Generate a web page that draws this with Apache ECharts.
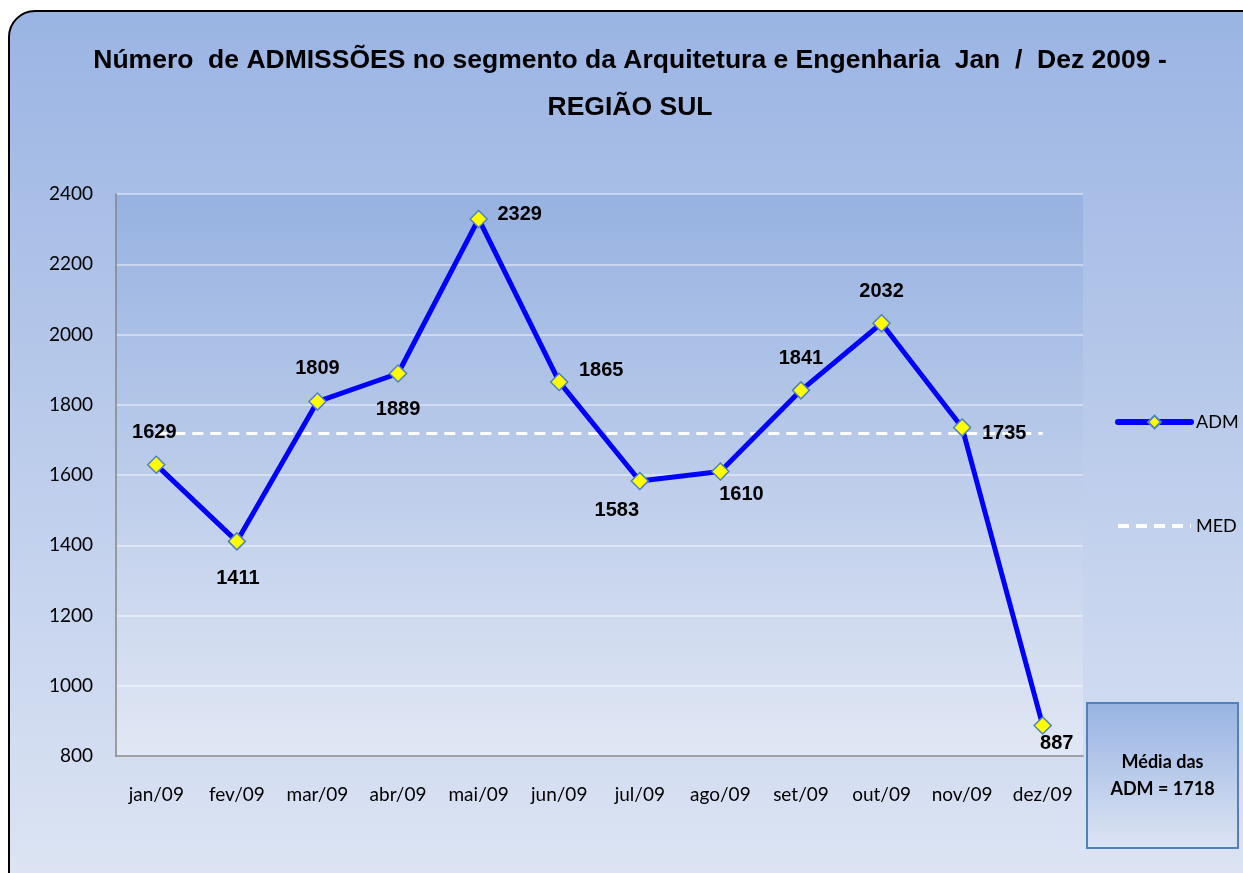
<!DOCTYPE html>
<html>
<head>
<meta charset="utf-8">
<script src="https://cdn.jsdelivr.net/npm/echarts@6/dist/echarts.min.js"></script>
<style>
html,body{margin:0;padding:0;background:#fff;}
#c{width:1243px;height:873px;}
</style>
</head>
<body>
<div id="c"></div>
<script>
var categories = ['jan/09','fev/09','mar/09','abr/09','mai/09','jun/09','jul/09','ago/09','set/09','out/09','nov/09','dez/09'];
var admValues = [1629,1411,1809,1889,2329,1865,1583,1610,1841,2032,1735,887];
var medValues = [1718,1718,1718,1718,1718,1718,1718,1718,1718,1718,1718,1718];
var yTicks = [800,1000,1200,1400,1600,1800,2000,2200,2400];
var labelOffsets = [[-2,-32],[1,37],[0,-33],[0,36],[41,-4],[42,-11],[-23,30],[21,23],[0,-32],[0,-32],[42,6],[14,18]];

var chart = echarts.init(document.getElementById('c'), null, {renderer:'canvas'});

var admData = admValues.map(function(v,i){
  return {value:v, label:{offset:labelOffsets[i]}};
});

chart.setOption({
  backgroundColor:'transparent',
  animation:false,
  graphic:[
    {type:'rect', z:-10, shape:{x:9,y:11,width:1270,height:900,r:26},
     style:{fill:new echarts.graphic.LinearGradient(0,0,0,1,[{offset:0,color:'#9AB4E3'},{offset:1,color:'#DFE6F4'}]),
            stroke:'#000',lineWidth:2}},
    {type:'rect', z:10, shape:{x:1087,y:703,width:151,height:145},
     style:{fill:new echarts.graphic.LinearGradient(0,0,0,1,[{offset:0,color:'#98B3E2'},{offset:1,color:'#DCE4F3'}]),
            stroke:'#4F81BD',lineWidth:2}},
    {type:'text', z:11, x:1162.5, y:775.5,
     style:{text:'Média das\nADM = 1718', align:'center', verticalAlign:'middle',
            font:'bold 18px Lato', lineHeight:27, fill:'#000'}}
  ],
  title:{
    text:'Número  de ADMISSÕES no segmento da Arquitetura e Engenharia  Jan  /  Dez 2009 -\nREGIÃO SUL',
    left:630, textAlign:'center', top:37, padding:0,
    textStyle:{fontFamily:'Liberation Sans, Arial', fontWeight:'bold', fontSize:26.5, lineHeight:47, color:'#000'}
  },
  legend:{
    orient:'vertical', left:1110, top:408,
    itemWidth:73, itemHeight:16, itemGap:86,
    textStyle:{fontFamily:'Lato', fontSize:18, color:'#000'},
    data:[
      {name:'ADM', lineStyle:{width:6, color:'#0000FF', cap:'round'}},
      {name:'MED', lineStyle:{width:4, color:'#FFFFFF', type:[11,7]}, itemStyle:{opacity:0}}
    ]
  },
  grid:{
    left:116, right:160, top:194, bottom:117, show:true, borderWidth:0,
    backgroundColor:new echarts.graphic.LinearGradient(0,0,0,1,[{offset:0,color:'#97B2E1'},{offset:1,color:'#E1E7F4'}])
  },
  xAxis:{
    type:'category', data:categories, boundaryGap:true,
    axisLine:{lineStyle:{color:'#868686',width:1.5}},
    axisTick:{show:false},
    axisLabel:{fontFamily:'Lato', fontSize:19, color:'#000', margin:29},
    splitLine:{show:false}
  },
  yAxis:{
    type:'value', min:yTicks[0], max:yTicks[yTicks.length-1], interval:200,
    axisLine:{show:true, lineStyle:{color:'#868686',width:1.5}},
    axisTick:{show:false},
    axisLabel:{fontFamily:'Lato', fontSize:19, color:'#000', margin:23, formatter:function(v){return String(v);}},
    splitLine:{lineStyle:{color:'rgba(255,255,255,0.55)',width:1.5}}
  },
  series:[
    {name:'MED', type:'line', data:medValues, symbol:'none', z:2,
     lineStyle:{color:'#FFFFFF', width:3, type:[11,7]}, itemStyle:{color:'#FFFFFF'}},
    {name:'ADM', type:'line', data:admData, z:3,
     symbol:'diamond', symbolSize:17,
     lineStyle:{color:'#0000FF', width:5},
     itemStyle:{color:'#FFFF00', borderColor:'#4F81BD', borderWidth:1.5},
     label:{show:true, position:'inside', fontFamily:'Liberation Sans, Arial', fontWeight:'bold', fontSize:20, color:'#000'}}
  ]
});
</script>
</body>
</html>
